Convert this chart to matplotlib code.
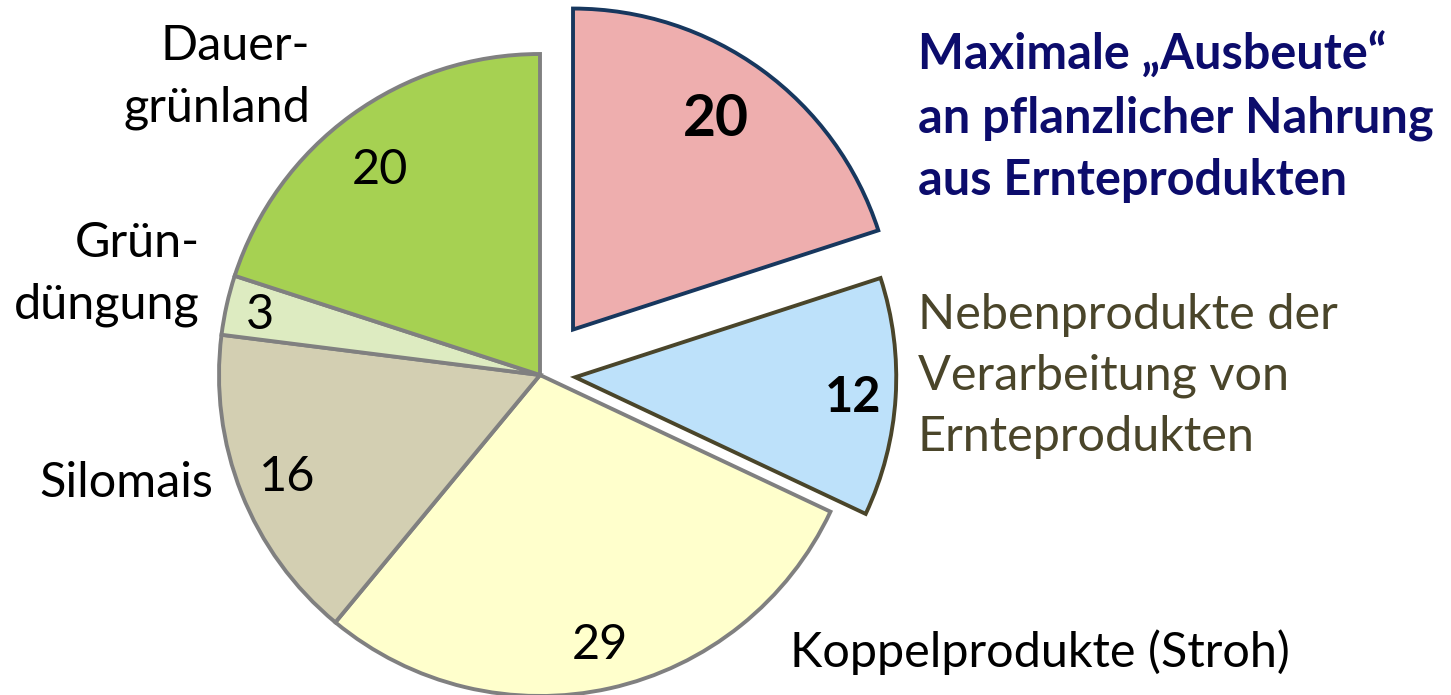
import matplotlib
matplotlib.use("Agg")
import matplotlib.pyplot as plt

# Data
categories = ["Maximale Ausbeute", "Nebenprodukte", "Koppelprodukte (Stroh)",
              "Silomais", "Gründüngung", "Dauergrünland"]
values = [20, 12, 29, 16, 3, 20]
value_labels = ["20", "12", "29", "16", "3", "20"]
colors = ["#EEAEAE", "#BDE1FA", "#FFFFCC", "#D3CFB2", "#DDEBC1", "#A6D152"]
edge_colors = ["#17375E", "#4A452A", "#808080", "#808080", "#808080", "#808080"]
explode_frac = [0.175, 0.11, 0, 0, 0, 0]

FONT = "Lato"
plt.rcParams["font.family"] = [FONT, "DejaVu Sans"]

W, H = 1451, 695
fig = plt.figure(figsize=(W / 100, H / 100), dpi=100)
ax = fig.add_axes([0, 0, 1, 1])

cx, cy, R = 540, H - 375, 321
explode = [e * R for e in explode_frac]
wedges, _ = ax.pie(values, colors=colors, startangle=90, counterclock=False,
                   explode=explode, radius=R, center=(cx, cy),
                   wedgeprops=dict(linewidth=2.8), frame=True)
for w, ec in zip(wedges, edge_colors):
    w.set_edgecolor(ec)
    w.set_joinstyle("miter")
ax.set_xlim(0, W)
ax.set_ylim(0, H)
ax.set_aspect("equal")
ax.axis("off")

def px(x, y):
    return x, H - y

fs = 35
ls = 1.47
# values inside slices
val_pos = [(716, 120), (853, 398), (600, 645), (287, 477), (260, 315), (380, 170)]
val_bold = [True, True, False, False, False, False]
for lab, (x, y), b in zip(value_labels, val_pos, val_bold):
    ax.text(*px(x, y), lab, ha="center", va="center", fontsize=fs + (6 if lab == "20" and b else 0),
            fontweight="bold" if b else "normal", color="black")

# category labels
ax.text(*px(310, 77), "Dauer-\ngrünland", ha="right", va="center", fontsize=fs,
        linespacing=ls, multialignment="right")
ax.text(*px(200, 274), "Grün-\ndüngung", ha="right", va="center", fontsize=fs,
        linespacing=ls, multialignment="right")
ax.text(*px(213, 483), "Silomais", ha="right", va="center", fontsize=fs)
ax.text(*px(790, 652), "Koppelprodukte (Stroh)", ha="left", va="center", fontsize=fs)
ax.text(*px(918, 376), "Nebenprodukte der\nVerarbeitung von\nErnteprodukten",
        ha="left", va="center", fontsize=fs, color="#4A452A", linespacing=ls)
ax.text(*px(918, 117), "Maximale \u201eAusbeute\u201c\nan pflanzlicher Nahrung\naus Ernteprodukten",
        ha="left", va="center", fontsize=fs, color="#0C0C6C", fontweight="bold",
        linespacing=ls)

fig.savefig("out.png", dpi=100)
